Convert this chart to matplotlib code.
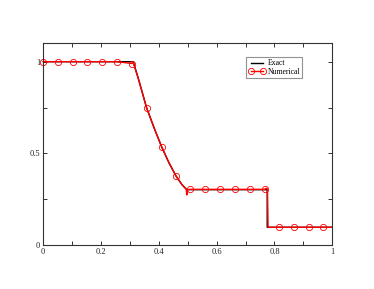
import numpy as np
import matplotlib
matplotlib.use("Agg")
import matplotlib.pyplot as plt
from matplotlib.ticker import MultipleLocator

# exact solution
exact_x = [0.0, 0.312, 0.33, 0.358, 0.385, 0.41, 0.435, 0.46, 0.48, 0.497, 0.775, 0.775, 1.0]
exact_y = [1.0, 1.0, 0.905, 0.749, 0.635, 0.536, 0.45, 0.376, 0.33, 0.302, 0.302, 0.097, 0.097]

# numerical solution: line points, circles drawn on a subset
num_x = [0.0, 0.051, 0.102, 0.153, 0.204, 0.255, 0.307, 0.312, 0.33, 0.358, 0.385, 0.41,
         0.435, 0.46, 0.48, 0.495, 0.497, 0.499, 0.508, 0.56, 0.612, 0.664, 0.714, 0.766,
         0.772, 0.776, 0.778, 0.816, 0.868, 0.918, 0.969, 1.0]
num_y = [1.0, 1.0, 1.0, 1.0, 1.0, 1.0, 0.99, 0.995, 0.905, 0.749, 0.635, 0.536,
         0.45, 0.376, 0.33, 0.305, 0.273, 0.303, 0.304, 0.304, 0.304, 0.304, 0.304, 0.304,
         0.31, 0.305, 0.097, 0.097, 0.097, 0.097, 0.097, 0.097]
marker_idx = [0, 1, 2, 3, 4, 5, 6, 9, 11, 13, 18, 19, 20, 21, 22, 23, 27, 28, 29, 30]

x_ticks = [0, 0.2, 0.4, 0.6, 0.8, 1]
x_labels = ['0', '0.2', '0.4', '0.6', '0.8', '1']
y_ticks = [0, 0.5, 1]
y_labels = ['0', '0.5', '1']

plt.rcParams['font.family'] = ['Liberation Serif', 'DejaVu Serif']

fig = plt.figure(figsize=(3.74, 2.89), dpi=100)
ax = fig.add_axes([0.115, 0.152, 0.7735, 0.698])

ax.plot(exact_x, exact_y, color='black', lw=1.0, label='Exact')
ax.plot(num_x, num_y, color='red', lw=1.0, marker='o', markevery=marker_idx,
        markersize=4.5, markerfacecolor='none', markeredgecolor='red', markeredgewidth=0.6,
        clip_on=False, label='Numerical')

ax.set_xlim(0, 1)
ax.set_ylim(0, 1.1)
ax.set_xticks(x_ticks)
ax.set_xticklabels(x_labels)
ax.xaxis.set_minor_locator(MultipleLocator(0.1))
ax.set_yticks(y_ticks)
ax.set_yticklabels(y_labels)
ax.yaxis.set_minor_locator(MultipleLocator(0.25))
ax.tick_params(which='both', direction='in', top=True, right=True, labelsize=6,
               color='#333333', labelcolor='#222222', width=0.7, pad=2)
ax.tick_params(which='major', length=3)
ax.tick_params(which='minor', length=3)
for s in ax.spines.values():
    s.set_linewidth(0.8)
    s.set_color('#333333')

leg = ax.legend(loc='upper left', bbox_to_anchor=(0.702, 0.932), fontsize=5.5,
                frameon=True, fancybox=False, handlelength=2.2, handletextpad=0.3,
                borderpad=0.3, labelspacing=0.1, borderaxespad=0, numpoints=2)
leg.get_frame().set_edgecolor('#777777')
leg.get_frame().set_linewidth(0.8)

fig.savefig('out.png', dpi=100)
